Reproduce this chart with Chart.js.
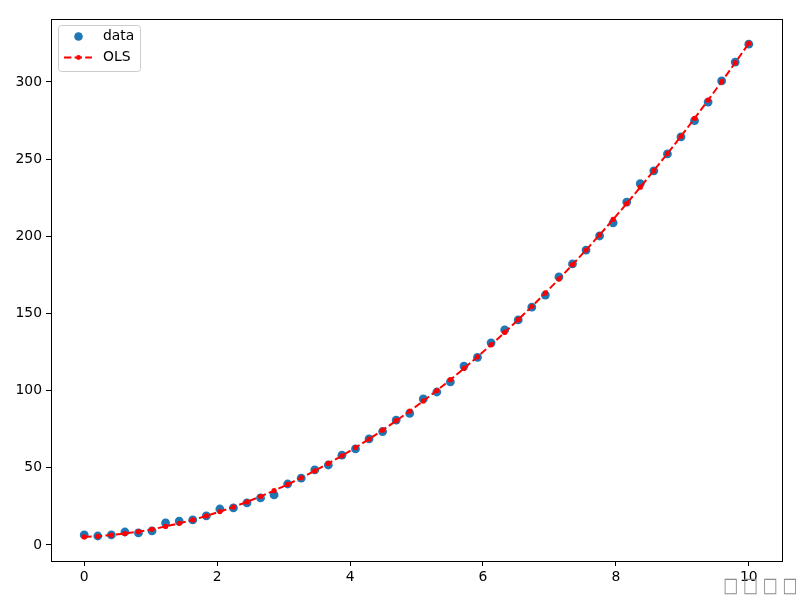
<!DOCTYPE html>
<html>
<head>
<meta charset="utf-8">
<script src="https://cdn.jsdelivr.net/npm/chart.js@4/dist/chart.umd.min.js"></script>
<style>
  html, body { margin: 0; padding: 0; background: #fff; }
  #wrap { width: 800px; height: 600px; }
</style>
</head>
<body>
<div id="wrap"><canvas id="c" width="800" height="600"></canvas></div>
<script>
// ---- data ----
const xValues = [0, 0.204, 0.408, 0.612, 0.816, 1.020, 1.224, 1.429, 1.633, 1.837,
  2.041, 2.245, 2.449, 2.653, 2.857, 3.061, 3.265, 3.469, 3.673, 3.878,
  4.082, 4.286, 4.490, 4.694, 4.898, 5.102, 5.306, 5.510, 5.714, 5.918,
  6.122, 6.327, 6.531, 6.735, 6.939, 7.143, 7.347, 7.551, 7.755, 7.959,
  8.163, 8.367, 8.571, 8.776, 8.980, 9.184, 9.388, 9.592, 9.796, 10];
const dataValues = [6.5, 5.8, 6.5, 8.4, 7.8, 9.1, 14.3, 15.5, 16.2, 18.8,
  23.3, 24.0, 27.2, 30.5, 32.4, 39.5, 43.3, 48.6, 51.8, 58.2,
  62.2, 68.7, 73.5, 80.9, 85.2, 94.6, 99.1, 105.7, 115.9, 121.6,
  131.0, 139.3, 145.8, 154.1, 161.9, 173.7, 182.1, 191.1, 200.2, 208.7,
  222.2, 234.1, 242.4, 253.4, 264.4, 274.9, 287.0, 300.7, 312.9, 324.5];
const olsValues = [5.2, 5.6, 6.4, 7.4, 8.6, 10.1, 12.0, 14.0, 16.2, 18.8,
  21.6, 24.6, 27.9, 31.4, 35.2, 39.2, 43.5, 48.0, 52.8, 57.8,
  63.1, 68.6, 74.4, 80.5, 86.7, 93.3, 100.0, 107.1, 114.4, 121.9,
  129.7, 137.7, 146.0, 154.5, 163.3, 172.3, 181.6, 191.1, 200.9, 210.9,
  221.2, 231.8, 242.5, 253.6, 264.8, 276.4, 288.2, 300.2, 312.5, 325.0];
const seriesLabels = ['data', 'OLS'];
const xTicks = [0, 2, 4, 6, 8, 10];
const yTicks = [0, 50, 100, 150, 200, 250, 300];
const watermarkText = '\u25A1\u25A1\u25A1\u25A1';

const FONT = 'DejaVu Sans';
const FS = 13.9;

const framePlugin = {
  id: 'frame',
  afterDraw(chart) {
    const ctx = chart.ctx, a = chart.chartArea;
    ctx.save();
    ctx.strokeStyle = '#000';
    ctx.lineWidth = 1;
    const L = Math.round(a.left), T = Math.round(a.top), R = Math.round(a.right), B = Math.round(a.bottom);
    ctx.strokeRect(L + 0.5, T + 0.5, R - L, B - T);

    // legend (upper left, inside axes)
    const ds = chart.data.datasets;
    const bx = L + 7, by = T + 6, bw = 82, bh = 46;
    ctx.beginPath();
    if (ctx.roundRect) ctx.roundRect(bx + 0.5, by + 0.5, bw, bh, 3); else ctx.rect(bx + 0.5, by + 0.5, bw, bh);
    ctx.fillStyle = 'rgba(255,255,255,0.8)';
    ctx.fill();
    ctx.strokeStyle = '#cccccc';
    ctx.lineWidth = 1;
    ctx.stroke();
    ctx.font = FS + 'px ' + FONT;
    ctx.textBaseline = 'middle';
    ctx.textAlign = 'left';
    let ly = by + 11.5;
    ctx.beginPath();
    ctx.arc(bx + 20.5, ly, 4.3, 0, Math.PI * 2);
    ctx.fillStyle = ds[0].backgroundColor;
    ctx.fill();
    ctx.fillStyle = '#000';
    ctx.fillText(ds[0].label, bx + 45, ly);
    ly = by + 32.5;
    ctx.save();
    ctx.strokeStyle = ds[1].borderColor;
    ctx.lineWidth = ds[1].borderWidth;
    ctx.setLineDash(ds[1].borderDash);
    ctx.beginPath();
    ctx.moveTo(bx + 6, ly);
    ctx.lineTo(bx + 34, ly);
    ctx.stroke();
    ctx.restore();
    ctx.beginPath();
    ctx.arc(bx + 20.5, ly, 2.4, 0, Math.PI * 2);
    ctx.fillStyle = ds[1].pointBackgroundColor;
    ctx.fill();
    ctx.fillStyle = '#000';
    ctx.fillText(ds[1].label, bx + 45, ly);

    // watermark text bottom-right (missing-glyph boxes)
    ctx.font = '20px ' + FONT;
    ctx.textAlign = 'left';
    ctx.textBaseline = 'alphabetic';
    ctx.fillStyle = '#8c8c8c';
    const chars = Array.from(watermarkText);
    const m = ctx.measureText(chars[0]);
    const gw = (m.actualBoundingBoxRight + m.actualBoundingBoxLeft) || 12;
    const gh = (m.actualBoundingBoxAscent + m.actualBoundingBoxDescent) || 12;
    const sx = 13.3 / gw, sy = 16.6 / gh;
    chars.forEach((ch, i) => {
      ctx.save();
      ctx.translate(724 + i * 19.8, 579);
      ctx.scale(sx, sy);
      ctx.fillText(ch, m.actualBoundingBoxLeft || 0, m.actualBoundingBoxAscent || 12);
      ctx.restore();
    });
    ctx.restore();
  }
};

new Chart(document.getElementById('c'), {
  type: 'scatter',
  data: {
    datasets: [
      {
        label: seriesLabels[0],
        data: xValues.map((x, i) => ({ x: x, y: dataValues[i] })),
        backgroundColor: '#1f77b4',
        borderColor: '#1f77b4',
        pointRadius: 4.4,
        pointBorderWidth: 0,
        showLine: false,
        order: 2
      },
      {
        label: seriesLabels[1],
        data: xValues.map((x, i) => ({ x: x, y: olsValues[i] })),
        borderColor: '#ff0000',
        backgroundColor: '#ff0000',
        pointBackgroundColor: '#ff0000',
        pointBorderWidth: 0,
        pointRadius: 2.6,
        showLine: true,
        borderWidth: 2,
        borderDash: [7.4, 3.2],
        tension: 0,
        order: 1
      }
    ]
  },
  options: {
    responsive: false,
    animation: false,
    devicePixelRatio: 1,
    layout: { padding: { left: 0, top: 19, right: 18, bottom: 0 } },
    plugins: { legend: { display: false }, tooltip: { enabled: false } },
    scales: {
      x: {
        type: 'linear',
        min: -0.5, max: 10.5,
        afterFit(s) { s.height = 39; },
        afterBuildTicks(s) { s.ticks = xTicks.map(v => ({ value: v })); },
        ticks: { color: '#000', font: { family: FONT, size: FS }, padding: 3, maxRotation: 0, callback: v => String(v) },
        grid: { drawOnChartArea: false, drawTicks: true, tickLength: 5, color: '#000', lineWidth: 1 },
        border: { display: false }
      },
      y: {
        type: 'linear',
        min: -10.4, max: 340.8,
        afterFit(s) { s.width = 51; },
        afterBuildTicks(s) { s.ticks = yTicks.map(v => ({ value: v })); },
        ticks: { color: '#000', font: { family: FONT, size: FS }, padding: 4, callback: v => String(v) },
        grid: { drawOnChartArea: false, drawTicks: true, tickLength: 5, color: '#000', lineWidth: 1 },
        border: { display: false }
      }
    }
  },
  plugins: [framePlugin]
});
</script>
</body>
</html>
